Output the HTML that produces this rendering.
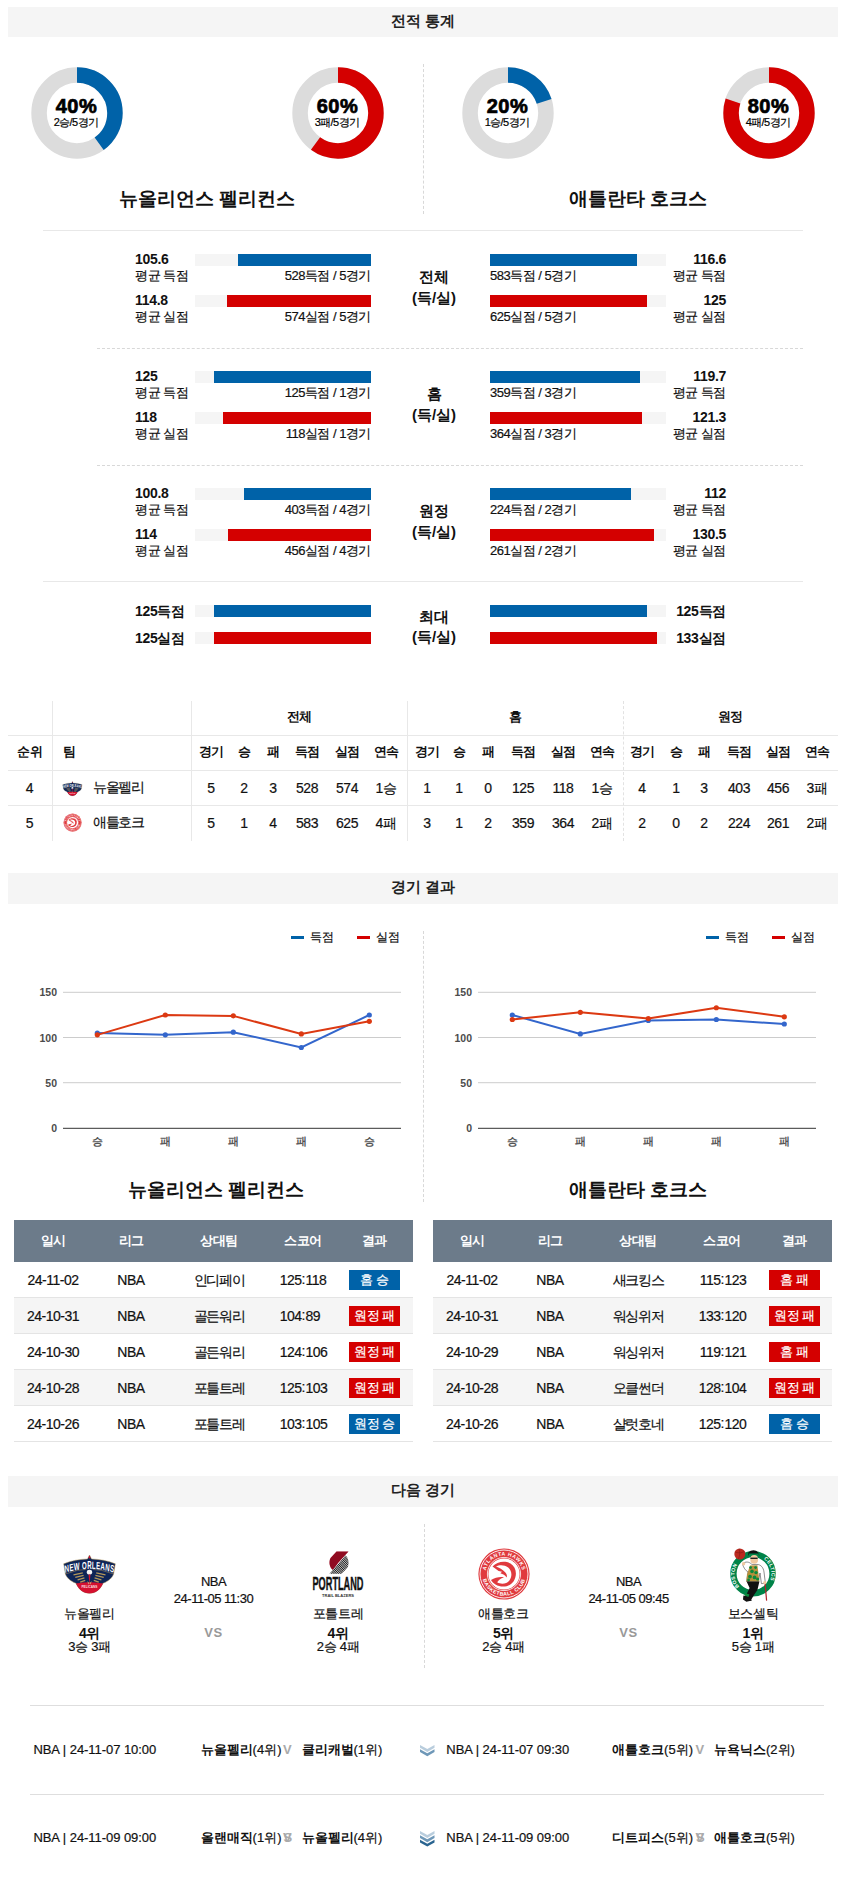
<!DOCTYPE html><html><head><meta charset="utf-8"><title>stats</title><style>
*{margin:0;padding:0;box-sizing:border-box}
html,body{width:844px;height:1878px;background:#fff;overflow:hidden}
body{font-family:"Liberation Sans",sans-serif;color:#111;position:relative;font-size:13px;-webkit-text-stroke:0.2px}
.a{position:absolute;white-space:nowrap}
.hdr{position:absolute;left:8px;width:830px;height:30px;background:#f5f5f5;text-align:center;font-weight:bold;font-size:14.5px;line-height:28px;color:#222;-webkit-text-stroke:0}
.c{text-align:center}
.r{text-align:right}
.b,b{font-weight:bold;-webkit-text-stroke:0}
.hl{position:absolute;height:1px;background:#e8e8e8}
.dl{position:absolute;height:0;border-top:1px dashed #d8d8d8}
.vl{position:absolute;width:0;border-left:1px dashed #d8d8d8}
.bar{position:absolute;height:12px;background:#f5f5f5}
.bar i{position:absolute;top:0;height:12px;display:block}
.cl{padding:0 1px}
</style></head><body>
<div class="hdr" style="top:7px;height:30px">전적 통계</div>
<svg class="a" style="left:30px;top:65.5px" width="94" height="94" viewBox="-47 -47 94 94"><circle r="37.95" fill="none" stroke="#dcdcdc" stroke-width="15.5"/><circle r="37.95" fill="none" stroke="#0062a8" stroke-width="15.5" stroke-dasharray="95.3788 238.447" transform="rotate(-90)"/></svg><div class="a c b" style="left:36.5px;top:95.5px;width:80px;font-size:20px;line-height:20px;letter-spacing:0.5px;-webkit-text-stroke:0.7px #000;color:#000">40%</div><div class="a c" style="left:36px;top:115.5px;width:80px;font-size:11px;line-height:12px;letter-spacing:-0.6px;color:#000">2승/5경기</div>
<svg class="a" style="left:291px;top:65.5px" width="94" height="94" viewBox="-47 -47 94 94"><circle r="37.95" fill="none" stroke="#dcdcdc" stroke-width="15.5"/><circle r="37.95" fill="none" stroke="#d40000" stroke-width="15.5" stroke-dasharray="143.068 238.447" transform="rotate(-90)"/></svg><div class="a c b" style="left:297.5px;top:95.5px;width:80px;font-size:20px;line-height:20px;letter-spacing:0.5px;-webkit-text-stroke:0.7px #000;color:#000">60%</div><div class="a c" style="left:297px;top:115.5px;width:80px;font-size:11px;line-height:12px;letter-spacing:-0.6px;color:#000">3패/5경기</div>
<svg class="a" style="left:461px;top:65.5px" width="94" height="94" viewBox="-47 -47 94 94"><circle r="37.95" fill="none" stroke="#dcdcdc" stroke-width="15.5"/><circle r="37.95" fill="none" stroke="#0062a8" stroke-width="15.5" stroke-dasharray="47.6894 238.447" transform="rotate(-90)"/></svg><div class="a c b" style="left:467.5px;top:95.5px;width:80px;font-size:20px;line-height:20px;letter-spacing:0.5px;-webkit-text-stroke:0.7px #000;color:#000">20%</div><div class="a c" style="left:467px;top:115.5px;width:80px;font-size:11px;line-height:12px;letter-spacing:-0.6px;color:#000">1승/5경기</div>
<svg class="a" style="left:722px;top:65.5px" width="94" height="94" viewBox="-47 -47 94 94"><circle r="37.95" fill="none" stroke="#dcdcdc" stroke-width="15.5"/><circle r="37.95" fill="none" stroke="#d40000" stroke-width="15.5" stroke-dasharray="190.758 238.447" transform="rotate(-90)"/></svg><div class="a c b" style="left:728.5px;top:95.5px;width:80px;font-size:20px;line-height:20px;letter-spacing:0.5px;-webkit-text-stroke:0.7px #000;color:#000">80%</div><div class="a c" style="left:728px;top:115.5px;width:80px;font-size:11px;line-height:12px;letter-spacing:-0.6px;color:#000">4패/5경기</div>
<div class="vl" style="left:423px;top:64px;height:150px"></div>
<div class="a c b" style="left:57px;top:187px;width:300px;font-size:19px;line-height:24px">뉴올리언스 펠리컨스</div>
<div class="a c b" style="left:488px;top:187px;width:300px;font-size:19px;line-height:24px">애틀란타 호크스</div>
<div class="hl" style="left:43px;top:230px;width:760px"></div>
<div class="a b" style="left:135px;top:251px;font-size:14px;line-height:16px;letter-spacing:-0.3px">105.6</div>
<div class="a" style="left:135px;top:268px;font-size:13px;line-height:16px;letter-spacing:-0.5px">평균 득점</div>
<div class="bar" style="left:195px;top:254px;width:176px"><i style="right:0;width:133px;background:#0062a8"></i></div>
<div class="a r" style="left:221px;width:150px;top:268px;font-size:13px;line-height:16px;letter-spacing:-0.5px">528득점 / 5경기</div>
<div class="a b" style="left:135px;top:292px;font-size:14px;line-height:16px;letter-spacing:-0.3px">114.8</div>
<div class="a" style="left:135px;top:309px;font-size:13px;line-height:16px;letter-spacing:-0.5px">평균 실점</div>
<div class="bar" style="left:195px;top:295px;width:176px"><i style="right:0;width:144px;background:#d40000"></i></div>
<div class="a r" style="left:221px;width:150px;top:309px;font-size:13px;line-height:16px;letter-spacing:-0.5px">574실점 / 5경기</div>
<div class="a b r" style="left:626px;width:100px;top:251px;font-size:14px;line-height:16px;letter-spacing:-0.3px">116.6</div>
<div class="a r" style="left:626px;width:100px;top:268px;font-size:13px;line-height:16px;letter-spacing:-0.5px">평균 득점</div>
<div class="bar" style="left:490px;top:254px;width:176px"><i style="left:0;width:147px;background:#0062a8"></i></div>
<div class="a" style="left:490px;top:268px;font-size:13px;line-height:16px;letter-spacing:-0.5px">583득점 / 5경기</div>
<div class="a b r" style="left:626px;width:100px;top:292px;font-size:14px;line-height:16px;letter-spacing:-0.3px">125</div>
<div class="a r" style="left:626px;width:100px;top:309px;font-size:13px;line-height:16px;letter-spacing:-0.5px">평균 실점</div>
<div class="bar" style="left:490px;top:295px;width:176px"><i style="left:0;width:157px;background:#d40000"></i></div>
<div class="a" style="left:490px;top:309px;font-size:13px;line-height:16px;letter-spacing:-0.5px">625실점 / 5경기</div>
<div class="a c b" style="left:394px;width:80px;top:266px;font-size:15px;line-height:21px">전체<br>(득/실)</div>
<div class="dl" style="left:97px;top:348px;width:706px"></div>
<div class="a b" style="left:135px;top:368px;font-size:14px;line-height:16px;letter-spacing:-0.3px">125</div>
<div class="a" style="left:135px;top:385px;font-size:13px;line-height:16px;letter-spacing:-0.5px">평균 득점</div>
<div class="bar" style="left:195px;top:371px;width:176px"><i style="right:0;width:157px;background:#0062a8"></i></div>
<div class="a r" style="left:221px;width:150px;top:385px;font-size:13px;line-height:16px;letter-spacing:-0.5px">125득점 / 1경기</div>
<div class="a b" style="left:135px;top:409px;font-size:14px;line-height:16px;letter-spacing:-0.3px">118</div>
<div class="a" style="left:135px;top:426px;font-size:13px;line-height:16px;letter-spacing:-0.5px">평균 실점</div>
<div class="bar" style="left:195px;top:412px;width:176px"><i style="right:0;width:148px;background:#d40000"></i></div>
<div class="a r" style="left:221px;width:150px;top:426px;font-size:13px;line-height:16px;letter-spacing:-0.5px">118실점 / 1경기</div>
<div class="a b r" style="left:626px;width:100px;top:368px;font-size:14px;line-height:16px;letter-spacing:-0.3px">119.7</div>
<div class="a r" style="left:626px;width:100px;top:385px;font-size:13px;line-height:16px;letter-spacing:-0.5px">평균 득점</div>
<div class="bar" style="left:490px;top:371px;width:176px"><i style="left:0;width:150px;background:#0062a8"></i></div>
<div class="a" style="left:490px;top:385px;font-size:13px;line-height:16px;letter-spacing:-0.5px">359득점 / 3경기</div>
<div class="a b r" style="left:626px;width:100px;top:409px;font-size:14px;line-height:16px;letter-spacing:-0.3px">121.3</div>
<div class="a r" style="left:626px;width:100px;top:426px;font-size:13px;line-height:16px;letter-spacing:-0.5px">평균 실점</div>
<div class="bar" style="left:490px;top:412px;width:176px"><i style="left:0;width:152px;background:#d40000"></i></div>
<div class="a" style="left:490px;top:426px;font-size:13px;line-height:16px;letter-spacing:-0.5px">364실점 / 3경기</div>
<div class="a c b" style="left:394px;width:80px;top:383px;font-size:15px;line-height:21px">홈<br>(득/실)</div>
<div class="dl" style="left:97px;top:465px;width:706px"></div>
<div class="a b" style="left:135px;top:485px;font-size:14px;line-height:16px;letter-spacing:-0.3px">100.8</div>
<div class="a" style="left:135px;top:502px;font-size:13px;line-height:16px;letter-spacing:-0.5px">평균 득점</div>
<div class="bar" style="left:195px;top:488px;width:176px"><i style="right:0;width:127px;background:#0062a8"></i></div>
<div class="a r" style="left:221px;width:150px;top:502px;font-size:13px;line-height:16px;letter-spacing:-0.5px">403득점 / 4경기</div>
<div class="a b" style="left:135px;top:526px;font-size:14px;line-height:16px;letter-spacing:-0.3px">114</div>
<div class="a" style="left:135px;top:543px;font-size:13px;line-height:16px;letter-spacing:-0.5px">평균 실점</div>
<div class="bar" style="left:195px;top:529px;width:176px"><i style="right:0;width:143px;background:#d40000"></i></div>
<div class="a r" style="left:221px;width:150px;top:543px;font-size:13px;line-height:16px;letter-spacing:-0.5px">456실점 / 4경기</div>
<div class="a b r" style="left:626px;width:100px;top:485px;font-size:14px;line-height:16px;letter-spacing:-0.3px">112</div>
<div class="a r" style="left:626px;width:100px;top:502px;font-size:13px;line-height:16px;letter-spacing:-0.5px">평균 득점</div>
<div class="bar" style="left:490px;top:488px;width:176px"><i style="left:0;width:141px;background:#0062a8"></i></div>
<div class="a" style="left:490px;top:502px;font-size:13px;line-height:16px;letter-spacing:-0.5px">224득점 / 2경기</div>
<div class="a b r" style="left:626px;width:100px;top:526px;font-size:14px;line-height:16px;letter-spacing:-0.3px">130.5</div>
<div class="a r" style="left:626px;width:100px;top:543px;font-size:13px;line-height:16px;letter-spacing:-0.5px">평균 실점</div>
<div class="bar" style="left:490px;top:529px;width:176px"><i style="left:0;width:164px;background:#d40000"></i></div>
<div class="a" style="left:490px;top:543px;font-size:13px;line-height:16px;letter-spacing:-0.5px">261실점 / 2경기</div>
<div class="a c b" style="left:394px;width:80px;top:500px;font-size:15px;line-height:21px">원정<br>(득/실)</div>
<div class="hl" style="left:43px;top:581px;width:760px"></div>
<div class="a b" style="left:135px;top:603px;font-size:14px;line-height:16px;letter-spacing:-0.3px">125<span class="k">득점</span></div>
<div class="bar" style="left:195px;top:605px;width:176px"><i style="right:0;width:157px;background:#0062a8"></i></div>
<div class="a b r" style="left:626px;width:100px;top:603px;font-size:14px;line-height:16px;letter-spacing:-0.3px">125<span class="k">득점</span></div>
<div class="bar" style="left:490px;top:605px;width:176px"><i style="left:0;width:157px;background:#0062a8"></i></div>
<div class="a b" style="left:135px;top:630px;font-size:14px;line-height:16px;letter-spacing:-0.3px">125<span class="k">실점</span></div>
<div class="bar" style="left:195px;top:632px;width:176px"><i style="right:0;width:157px;background:#d40000"></i></div>
<div class="a b r" style="left:626px;width:100px;top:630px;font-size:14px;line-height:16px;letter-spacing:-0.3px">133<span class="k">실점</span></div>
<div class="bar" style="left:490px;top:632px;width:176px"><i style="left:0;width:167px;background:#d40000"></i></div>
<div class="a c b" style="left:394px;width:80px;top:606.5px;font-size:15px;line-height:20.5px">최대<br>(득/실)</div>
<div class="a" style="left:52px;top:701px;height:140px;width:1px;background:#e8e8e8"></div>
<div class="a" style="left:191px;top:701px;height:140px;width:1px;background:#e8e8e8"></div>
<div class="a" style="left:407px;top:701px;height:140px;width:1px;background:#e8e8e8"></div>
<div class="vl" style="left:623px;top:701px;height:140px;border-color:#e2e2e2"></div>
<div class="hl" style="left:8px;top:735px;width:830px"></div>
<div class="hl" style="left:8px;top:770px;width:830px"></div>
<div class="hl" style="left:8px;top:805px;width:830px"></div>
<div class="a c b" style="left:269px;top:709px;width:60px;font-size:13px;line-height:16px;letter-spacing:-0.5px">전체</div>
<div class="a c b" style="left:485px;top:709px;width:60px;font-size:13px;line-height:16px;letter-spacing:-0.5px">홈</div>
<div class="a c b" style="left:700px;top:709px;width:60px;font-size:13px;line-height:16px;letter-spacing:-0.5px">원정</div>
<div class="a c b" style="left:-0.5px;top:744px;width:60px;font-size:13px;line-height:16px;letter-spacing:-0.5px">순위</div>
<div class="a b" style="left:63px;top:744px;font-size:13px;line-height:16px">팀</div>
<div class="a c b" style="left:181px;top:744px;width:60px;font-size:13px;line-height:16px;letter-spacing:-0.5px">경기</div>
<div class="a c b" style="left:214px;top:744px;width:60px;font-size:13px;line-height:16px;letter-spacing:-0.5px">승</div>
<div class="a c b" style="left:243px;top:744px;width:60px;font-size:13px;line-height:16px;letter-spacing:-0.5px">패</div>
<div class="a c b" style="left:277px;top:744px;width:60px;font-size:13px;line-height:16px;letter-spacing:-0.5px">득점</div>
<div class="a c b" style="left:317px;top:744px;width:60px;font-size:13px;line-height:16px;letter-spacing:-0.5px">실점</div>
<div class="a c b" style="left:356px;top:744px;width:60px;font-size:13px;line-height:16px;letter-spacing:-0.5px">연속</div>
<div class="a c b" style="left:397px;top:744px;width:60px;font-size:13px;line-height:16px;letter-spacing:-0.5px">경기</div>
<div class="a c b" style="left:429px;top:744px;width:60px;font-size:13px;line-height:16px;letter-spacing:-0.5px">승</div>
<div class="a c b" style="left:458px;top:744px;width:60px;font-size:13px;line-height:16px;letter-spacing:-0.5px">패</div>
<div class="a c b" style="left:493px;top:744px;width:60px;font-size:13px;line-height:16px;letter-spacing:-0.5px">득점</div>
<div class="a c b" style="left:533px;top:744px;width:60px;font-size:13px;line-height:16px;letter-spacing:-0.5px">실점</div>
<div class="a c b" style="left:572px;top:744px;width:60px;font-size:13px;line-height:16px;letter-spacing:-0.5px">연속</div>
<div class="a c b" style="left:612px;top:744px;width:60px;font-size:13px;line-height:16px;letter-spacing:-0.5px">경기</div>
<div class="a c b" style="left:646px;top:744px;width:60px;font-size:13px;line-height:16px;letter-spacing:-0.5px">승</div>
<div class="a c b" style="left:674px;top:744px;width:60px;font-size:13px;line-height:16px;letter-spacing:-0.5px">패</div>
<div class="a c b" style="left:709px;top:744px;width:60px;font-size:13px;line-height:16px;letter-spacing:-0.5px">득점</div>
<div class="a c b" style="left:748px;top:744px;width:60px;font-size:13px;line-height:16px;letter-spacing:-0.5px">실점</div>
<div class="a c b" style="left:787px;top:744px;width:60px;font-size:13px;line-height:16px;letter-spacing:-0.5px">연속</div>
<div class="a c" style="left:-0.5px;top:780px;width:60px;font-size:14px;line-height:16px;letter-spacing:-0.5px">4</div>
<div class="a" style="left:93px;top:779px;font-size:14px;line-height:16px;letter-spacing:-1.3px">뉴올펠리</div>
<div class="a c" style="left:181px;top:780px;width:60px;font-size:14px;line-height:16px;letter-spacing:-0.5px">5</div>
<div class="a c" style="left:214px;top:780px;width:60px;font-size:14px;line-height:16px;letter-spacing:-0.5px">2</div>
<div class="a c" style="left:243px;top:780px;width:60px;font-size:14px;line-height:16px;letter-spacing:-0.5px">3</div>
<div class="a c" style="left:277px;top:780px;width:60px;font-size:14px;line-height:16px;letter-spacing:-0.5px">528</div>
<div class="a c" style="left:317px;top:780px;width:60px;font-size:14px;line-height:16px;letter-spacing:-0.5px">574</div>
<div class="a c" style="left:356px;top:780px;width:60px;font-size:14px;line-height:16px;letter-spacing:-0.5px">1승</div>
<div class="a c" style="left:397px;top:780px;width:60px;font-size:14px;line-height:16px;letter-spacing:-0.5px">1</div>
<div class="a c" style="left:429px;top:780px;width:60px;font-size:14px;line-height:16px;letter-spacing:-0.5px">1</div>
<div class="a c" style="left:458px;top:780px;width:60px;font-size:14px;line-height:16px;letter-spacing:-0.5px">0</div>
<div class="a c" style="left:493px;top:780px;width:60px;font-size:14px;line-height:16px;letter-spacing:-0.5px">125</div>
<div class="a c" style="left:533px;top:780px;width:60px;font-size:14px;line-height:16px;letter-spacing:-0.5px">118</div>
<div class="a c" style="left:572px;top:780px;width:60px;font-size:14px;line-height:16px;letter-spacing:-0.5px">1승</div>
<div class="a c" style="left:612px;top:780px;width:60px;font-size:14px;line-height:16px;letter-spacing:-0.5px">4</div>
<div class="a c" style="left:646px;top:780px;width:60px;font-size:14px;line-height:16px;letter-spacing:-0.5px">1</div>
<div class="a c" style="left:674px;top:780px;width:60px;font-size:14px;line-height:16px;letter-spacing:-0.5px">3</div>
<div class="a c" style="left:709px;top:780px;width:60px;font-size:14px;line-height:16px;letter-spacing:-0.5px">403</div>
<div class="a c" style="left:748px;top:780px;width:60px;font-size:14px;line-height:16px;letter-spacing:-0.5px">456</div>
<div class="a c" style="left:787px;top:780px;width:60px;font-size:14px;line-height:16px;letter-spacing:-0.5px">3패</div>
<div class="a c" style="left:-0.5px;top:815px;width:60px;font-size:14px;line-height:16px;letter-spacing:-0.5px">5</div>
<div class="a" style="left:93px;top:814px;font-size:14px;line-height:16px;letter-spacing:-1.3px">애틀호크</div>
<div class="a c" style="left:181px;top:815px;width:60px;font-size:14px;line-height:16px;letter-spacing:-0.5px">5</div>
<div class="a c" style="left:214px;top:815px;width:60px;font-size:14px;line-height:16px;letter-spacing:-0.5px">1</div>
<div class="a c" style="left:243px;top:815px;width:60px;font-size:14px;line-height:16px;letter-spacing:-0.5px">4</div>
<div class="a c" style="left:277px;top:815px;width:60px;font-size:14px;line-height:16px;letter-spacing:-0.5px">583</div>
<div class="a c" style="left:317px;top:815px;width:60px;font-size:14px;line-height:16px;letter-spacing:-0.5px">625</div>
<div class="a c" style="left:356px;top:815px;width:60px;font-size:14px;line-height:16px;letter-spacing:-0.5px">4패</div>
<div class="a c" style="left:397px;top:815px;width:60px;font-size:14px;line-height:16px;letter-spacing:-0.5px">3</div>
<div class="a c" style="left:429px;top:815px;width:60px;font-size:14px;line-height:16px;letter-spacing:-0.5px">1</div>
<div class="a c" style="left:458px;top:815px;width:60px;font-size:14px;line-height:16px;letter-spacing:-0.5px">2</div>
<div class="a c" style="left:493px;top:815px;width:60px;font-size:14px;line-height:16px;letter-spacing:-0.5px">359</div>
<div class="a c" style="left:533px;top:815px;width:60px;font-size:14px;line-height:16px;letter-spacing:-0.5px">364</div>
<div class="a c" style="left:572px;top:815px;width:60px;font-size:14px;line-height:16px;letter-spacing:-0.5px">2패</div>
<div class="a c" style="left:612px;top:815px;width:60px;font-size:14px;line-height:16px;letter-spacing:-0.5px">2</div>
<div class="a c" style="left:646px;top:815px;width:60px;font-size:14px;line-height:16px;letter-spacing:-0.5px">0</div>
<div class="a c" style="left:674px;top:815px;width:60px;font-size:14px;line-height:16px;letter-spacing:-0.5px">2</div>
<div class="a c" style="left:709px;top:815px;width:60px;font-size:14px;line-height:16px;letter-spacing:-0.5px">224</div>
<div class="a c" style="left:748px;top:815px;width:60px;font-size:14px;line-height:16px;letter-spacing:-0.5px">261</div>
<div class="a c" style="left:787px;top:815px;width:60px;font-size:14px;line-height:16px;letter-spacing:-0.5px">2패</div>
<div class="hdr" style="top:873px;height:31px;line-height:29px">경기 결과</div>
<div class="vl" style="left:423px;top:931px;height:271px"></div>
<div class="a" style="left:291px;top:936px;width:12.5px;height:3px;background:#0062a8"></div>
<div class="a" style="left:310px;top:929px;font-size:12px;line-height:16px">득점</div>
<div class="a" style="left:357px;top:936px;width:12.5px;height:3px;background:#d40000"></div>
<div class="a" style="left:376px;top:929px;font-size:12px;line-height:16px">실점</div>
<svg class="a" style="left:23px;top:980px" width="383" height="175" viewBox="0 0 383 175"><rect x="40" y="11.8" width="338" height="1" fill="#ccc"/><rect x="40" y="57" width="338" height="1" fill="#ccc"/><rect x="40" y="102.2" width="338" height="1" fill="#ccc"/><rect x="40" y="147.8" width="338" height="1" fill="#333"/><text x="34" y="16.3" text-anchor="end" font-size="10.5" font-weight="bold" fill="#4c4c4c" font-family="Liberation Sans, sans-serif">150</text><text x="34" y="61.5" text-anchor="end" font-size="10.5" font-weight="bold" fill="#4c4c4c" font-family="Liberation Sans, sans-serif">100</text><text x="34" y="106.7" text-anchor="end" font-size="10.5" font-weight="bold" fill="#4c4c4c" font-family="Liberation Sans, sans-serif">50</text><text x="34" y="151.9" text-anchor="end" font-size="10.5" font-weight="bold" fill="#4c4c4c" font-family="Liberation Sans, sans-serif">0</text><polyline fill="none" stroke="#3366cc" stroke-width="2" points="74.3,53.0535 142.3,54.8601 210.3,52.1502 278.3,67.5063 346.3,34.9875"/><circle cx="74.3" cy="53.0535" r="2.6" fill="#3366cc"/><circle cx="142.3" cy="54.8601" r="2.6" fill="#3366cc"/><circle cx="210.3" cy="52.1502" r="2.6" fill="#3366cc"/><circle cx="278.3" cy="67.5063" r="2.6" fill="#3366cc"/><circle cx="346.3" cy="34.9875" r="2.6" fill="#3366cc"/><polyline fill="none" stroke="#dc3912" stroke-width="2" points="74.3,54.8601 142.3,34.9875 210.3,35.8908 278.3,53.9568 346.3,41.3106"/><circle cx="74.3" cy="54.8601" r="2.6" fill="#dc3912"/><circle cx="142.3" cy="34.9875" r="2.6" fill="#dc3912"/><circle cx="210.3" cy="35.8908" r="2.6" fill="#dc3912"/><circle cx="278.3" cy="53.9568" r="2.6" fill="#dc3912"/><circle cx="346.3" cy="41.3106" r="2.6" fill="#dc3912"/><text x="74.3" y="165" text-anchor="middle" font-size="10.5" font-weight="bold" fill="#555" font-family="Liberation Sans, sans-serif">승</text><text x="142.3" y="165" text-anchor="middle" font-size="10.5" font-weight="bold" fill="#555" font-family="Liberation Sans, sans-serif">패</text><text x="210.3" y="165" text-anchor="middle" font-size="10.5" font-weight="bold" fill="#555" font-family="Liberation Sans, sans-serif">패</text><text x="278.3" y="165" text-anchor="middle" font-size="10.5" font-weight="bold" fill="#555" font-family="Liberation Sans, sans-serif">패</text><text x="346.3" y="165" text-anchor="middle" font-size="10.5" font-weight="bold" fill="#555" font-family="Liberation Sans, sans-serif">승</text></svg>
<div class="a" style="left:706px;top:936px;width:12.5px;height:3px;background:#0062a8"></div>
<div class="a" style="left:725px;top:929px;font-size:12px;line-height:16px">득점</div>
<div class="a" style="left:772px;top:936px;width:12.5px;height:3px;background:#d40000"></div>
<div class="a" style="left:791px;top:929px;font-size:12px;line-height:16px">실점</div>
<svg class="a" style="left:438px;top:980px" width="383" height="175" viewBox="0 0 383 175"><rect x="40" y="11.8" width="338" height="1" fill="#ccc"/><rect x="40" y="57" width="338" height="1" fill="#ccc"/><rect x="40" y="102.2" width="338" height="1" fill="#ccc"/><rect x="40" y="147.8" width="338" height="1" fill="#333"/><text x="34" y="16.3" text-anchor="end" font-size="10.5" font-weight="bold" fill="#4c4c4c" font-family="Liberation Sans, sans-serif">150</text><text x="34" y="61.5" text-anchor="end" font-size="10.5" font-weight="bold" fill="#4c4c4c" font-family="Liberation Sans, sans-serif">100</text><text x="34" y="106.7" text-anchor="end" font-size="10.5" font-weight="bold" fill="#4c4c4c" font-family="Liberation Sans, sans-serif">50</text><text x="34" y="151.9" text-anchor="end" font-size="10.5" font-weight="bold" fill="#4c4c4c" font-family="Liberation Sans, sans-serif">0</text><polyline fill="none" stroke="#3366cc" stroke-width="2" points="74.3,34.9875 142.3,53.9568 210.3,40.4073 278.3,39.504 346.3,44.0205"/><circle cx="74.3" cy="34.9875" r="2.6" fill="#3366cc"/><circle cx="142.3" cy="53.9568" r="2.6" fill="#3366cc"/><circle cx="210.3" cy="40.4073" r="2.6" fill="#3366cc"/><circle cx="278.3" cy="39.504" r="2.6" fill="#3366cc"/><circle cx="346.3" cy="44.0205" r="2.6" fill="#3366cc"/><polyline fill="none" stroke="#dc3912" stroke-width="2" points="74.3,39.504 142.3,32.2776 210.3,38.6007 278.3,27.7611 346.3,36.7941"/><circle cx="74.3" cy="39.504" r="2.6" fill="#dc3912"/><circle cx="142.3" cy="32.2776" r="2.6" fill="#dc3912"/><circle cx="210.3" cy="38.6007" r="2.6" fill="#dc3912"/><circle cx="278.3" cy="27.7611" r="2.6" fill="#dc3912"/><circle cx="346.3" cy="36.7941" r="2.6" fill="#dc3912"/><text x="74.3" y="165" text-anchor="middle" font-size="10.5" font-weight="bold" fill="#555" font-family="Liberation Sans, sans-serif">승</text><text x="142.3" y="165" text-anchor="middle" font-size="10.5" font-weight="bold" fill="#555" font-family="Liberation Sans, sans-serif">패</text><text x="210.3" y="165" text-anchor="middle" font-size="10.5" font-weight="bold" fill="#555" font-family="Liberation Sans, sans-serif">패</text><text x="278.3" y="165" text-anchor="middle" font-size="10.5" font-weight="bold" fill="#555" font-family="Liberation Sans, sans-serif">패</text><text x="346.3" y="165" text-anchor="middle" font-size="10.5" font-weight="bold" fill="#555" font-family="Liberation Sans, sans-serif">패</text></svg>
<div class="a c b" style="left:66px;top:1178px;width:300px;font-size:19px;line-height:24px">뉴올리언스 펠리컨스</div>
<div class="a c b" style="left:488px;top:1178px;width:300px;font-size:19px;line-height:24px">애틀란타 호크스</div>
<div class="a" style="left:14px;top:1220px;width:399px;height:42px;background:#6c7b8a"></div>
<div class="a c b" style="left:13px;top:1233px;width:80px;font-size:13px;line-height:16px;color:#fff;letter-spacing:-0.5px">일시</div>
<div class="a c b" style="left:91px;top:1233px;width:80px;font-size:13px;line-height:16px;color:#fff;letter-spacing:-0.5px">리그</div>
<div class="a c b" style="left:179px;top:1233px;width:80px;font-size:13px;line-height:16px;color:#fff;letter-spacing:-0.5px">상대팀</div>
<div class="a c b" style="left:263px;top:1233px;width:80px;font-size:13px;line-height:16px;color:#fff;letter-spacing:-0.5px">스코어</div>
<div class="a c b" style="left:334px;top:1233px;width:80px;font-size:13px;line-height:16px;color:#fff;letter-spacing:-0.5px">결과</div>
<div class="a" style="left:14px;top:1262px;width:399px;height:36px;background:#fff;border-bottom:1px solid #e4e4e4"></div>
<div class="a c" style="left:8px;top:1272px;width:90px;font-size:14px;line-height:16px;letter-spacing:-0.5px">24-11-02</div>
<div class="a c" style="left:86px;top:1272px;width:90px;font-size:14px;line-height:16px;letter-spacing:-0.5px">NBA</div>
<div class="a c" style="left:174px;top:1272px;width:90px;font-size:14px;line-height:16px;letter-spacing:-1.3px">인디페이</div>
<div class="a r" style="left:261.5px;top:1272px;width:40px;font-size:14px;line-height:16px;letter-spacing:-0.5px">125</div>
<div class="a c" style="left:300.5px;top:1271px;width:6px;font-size:14px;line-height:16px">:</div>
<div class="a" style="left:305.5px;top:1272px;font-size:14px;line-height:16px;letter-spacing:-0.5px">118</div>
<div class="a c" style="left:349px;top:1270px;width:51px;height:20px;background:#0062a8;color:#fff;font-size:13px;line-height:20px;letter-spacing:-0.5px">홈 승</div>
<div class="a" style="left:14px;top:1298px;width:399px;height:36px;background:#f5f5f5;border-bottom:1px solid #e4e4e4"></div>
<div class="a c" style="left:8px;top:1308px;width:90px;font-size:14px;line-height:16px;letter-spacing:-0.5px">24-10-31</div>
<div class="a c" style="left:86px;top:1308px;width:90px;font-size:14px;line-height:16px;letter-spacing:-0.5px">NBA</div>
<div class="a c" style="left:174px;top:1308px;width:90px;font-size:14px;line-height:16px;letter-spacing:-1.3px">골든워리</div>
<div class="a r" style="left:261.5px;top:1308px;width:40px;font-size:14px;line-height:16px;letter-spacing:-0.5px">104</div>
<div class="a c" style="left:300.5px;top:1307px;width:6px;font-size:14px;line-height:16px">:</div>
<div class="a" style="left:305.5px;top:1308px;font-size:14px;line-height:16px;letter-spacing:-0.5px">89</div>
<div class="a c" style="left:349px;top:1306px;width:51px;height:20px;background:#d40000;color:#fff;font-size:13px;line-height:20px;letter-spacing:-0.5px">원정 패</div>
<div class="a" style="left:14px;top:1334px;width:399px;height:36px;background:#fff;border-bottom:1px solid #e4e4e4"></div>
<div class="a c" style="left:8px;top:1344px;width:90px;font-size:14px;line-height:16px;letter-spacing:-0.5px">24-10-30</div>
<div class="a c" style="left:86px;top:1344px;width:90px;font-size:14px;line-height:16px;letter-spacing:-0.5px">NBA</div>
<div class="a c" style="left:174px;top:1344px;width:90px;font-size:14px;line-height:16px;letter-spacing:-1.3px">골든워리</div>
<div class="a r" style="left:261.5px;top:1344px;width:40px;font-size:14px;line-height:16px;letter-spacing:-0.5px">124</div>
<div class="a c" style="left:300.5px;top:1343px;width:6px;font-size:14px;line-height:16px">:</div>
<div class="a" style="left:305.5px;top:1344px;font-size:14px;line-height:16px;letter-spacing:-0.5px">106</div>
<div class="a c" style="left:349px;top:1342px;width:51px;height:20px;background:#d40000;color:#fff;font-size:13px;line-height:20px;letter-spacing:-0.5px">원정 패</div>
<div class="a" style="left:14px;top:1370px;width:399px;height:36px;background:#f5f5f5;border-bottom:1px solid #e4e4e4"></div>
<div class="a c" style="left:8px;top:1380px;width:90px;font-size:14px;line-height:16px;letter-spacing:-0.5px">24-10-28</div>
<div class="a c" style="left:86px;top:1380px;width:90px;font-size:14px;line-height:16px;letter-spacing:-0.5px">NBA</div>
<div class="a c" style="left:174px;top:1380px;width:90px;font-size:14px;line-height:16px;letter-spacing:-1.3px">포틀트레</div>
<div class="a r" style="left:261.5px;top:1380px;width:40px;font-size:14px;line-height:16px;letter-spacing:-0.5px">125</div>
<div class="a c" style="left:300.5px;top:1379px;width:6px;font-size:14px;line-height:16px">:</div>
<div class="a" style="left:305.5px;top:1380px;font-size:14px;line-height:16px;letter-spacing:-0.5px">103</div>
<div class="a c" style="left:349px;top:1378px;width:51px;height:20px;background:#d40000;color:#fff;font-size:13px;line-height:20px;letter-spacing:-0.5px">원정 패</div>
<div class="a" style="left:14px;top:1406px;width:399px;height:36px;background:#fff;border-bottom:1px solid #e4e4e4"></div>
<div class="a c" style="left:8px;top:1416px;width:90px;font-size:14px;line-height:16px;letter-spacing:-0.5px">24-10-26</div>
<div class="a c" style="left:86px;top:1416px;width:90px;font-size:14px;line-height:16px;letter-spacing:-0.5px">NBA</div>
<div class="a c" style="left:174px;top:1416px;width:90px;font-size:14px;line-height:16px;letter-spacing:-1.3px">포틀트레</div>
<div class="a r" style="left:261.5px;top:1416px;width:40px;font-size:14px;line-height:16px;letter-spacing:-0.5px">103</div>
<div class="a c" style="left:300.5px;top:1415px;width:6px;font-size:14px;line-height:16px">:</div>
<div class="a" style="left:305.5px;top:1416px;font-size:14px;line-height:16px;letter-spacing:-0.5px">105</div>
<div class="a c" style="left:349px;top:1414px;width:51px;height:20px;background:#0062a8;color:#fff;font-size:13px;line-height:20px;letter-spacing:-0.5px">원정 승</div>
<div class="a" style="left:433px;top:1220px;width:399px;height:42px;background:#6c7b8a"></div>
<div class="a c b" style="left:432px;top:1233px;width:80px;font-size:13px;line-height:16px;color:#fff;letter-spacing:-0.5px">일시</div>
<div class="a c b" style="left:510px;top:1233px;width:80px;font-size:13px;line-height:16px;color:#fff;letter-spacing:-0.5px">리그</div>
<div class="a c b" style="left:598px;top:1233px;width:80px;font-size:13px;line-height:16px;color:#fff;letter-spacing:-0.5px">상대팀</div>
<div class="a c b" style="left:682px;top:1233px;width:80px;font-size:13px;line-height:16px;color:#fff;letter-spacing:-0.5px">스코어</div>
<div class="a c b" style="left:754px;top:1233px;width:80px;font-size:13px;line-height:16px;color:#fff;letter-spacing:-0.5px">결과</div>
<div class="a" style="left:433px;top:1262px;width:399px;height:36px;background:#fff;border-bottom:1px solid #e4e4e4"></div>
<div class="a c" style="left:427px;top:1272px;width:90px;font-size:14px;line-height:16px;letter-spacing:-0.5px">24-11-02</div>
<div class="a c" style="left:505px;top:1272px;width:90px;font-size:14px;line-height:16px;letter-spacing:-0.5px">NBA</div>
<div class="a c" style="left:593px;top:1272px;width:90px;font-size:14px;line-height:16px;letter-spacing:-1.3px">새크킹스</div>
<div class="a r" style="left:680.5px;top:1272px;width:40px;font-size:14px;line-height:16px;letter-spacing:-0.5px">115</div>
<div class="a c" style="left:719.5px;top:1271px;width:6px;font-size:14px;line-height:16px">:</div>
<div class="a" style="left:724.5px;top:1272px;font-size:14px;line-height:16px;letter-spacing:-0.5px">123</div>
<div class="a c" style="left:769px;top:1270px;width:51px;height:20px;background:#d40000;color:#fff;font-size:13px;line-height:20px;letter-spacing:-0.5px">홈 패</div>
<div class="a" style="left:433px;top:1298px;width:399px;height:36px;background:#f5f5f5;border-bottom:1px solid #e4e4e4"></div>
<div class="a c" style="left:427px;top:1308px;width:90px;font-size:14px;line-height:16px;letter-spacing:-0.5px">24-10-31</div>
<div class="a c" style="left:505px;top:1308px;width:90px;font-size:14px;line-height:16px;letter-spacing:-0.5px">NBA</div>
<div class="a c" style="left:593px;top:1308px;width:90px;font-size:14px;line-height:16px;letter-spacing:-1.3px">워싱위저</div>
<div class="a r" style="left:680.5px;top:1308px;width:40px;font-size:14px;line-height:16px;letter-spacing:-0.5px">133</div>
<div class="a c" style="left:719.5px;top:1307px;width:6px;font-size:14px;line-height:16px">:</div>
<div class="a" style="left:724.5px;top:1308px;font-size:14px;line-height:16px;letter-spacing:-0.5px">120</div>
<div class="a c" style="left:769px;top:1306px;width:51px;height:20px;background:#d40000;color:#fff;font-size:13px;line-height:20px;letter-spacing:-0.5px">원정 패</div>
<div class="a" style="left:433px;top:1334px;width:399px;height:36px;background:#fff;border-bottom:1px solid #e4e4e4"></div>
<div class="a c" style="left:427px;top:1344px;width:90px;font-size:14px;line-height:16px;letter-spacing:-0.5px">24-10-29</div>
<div class="a c" style="left:505px;top:1344px;width:90px;font-size:14px;line-height:16px;letter-spacing:-0.5px">NBA</div>
<div class="a c" style="left:593px;top:1344px;width:90px;font-size:14px;line-height:16px;letter-spacing:-1.3px">워싱위저</div>
<div class="a r" style="left:680.5px;top:1344px;width:40px;font-size:14px;line-height:16px;letter-spacing:-0.5px">119</div>
<div class="a c" style="left:719.5px;top:1343px;width:6px;font-size:14px;line-height:16px">:</div>
<div class="a" style="left:724.5px;top:1344px;font-size:14px;line-height:16px;letter-spacing:-0.5px">121</div>
<div class="a c" style="left:769px;top:1342px;width:51px;height:20px;background:#d40000;color:#fff;font-size:13px;line-height:20px;letter-spacing:-0.5px">홈 패</div>
<div class="a" style="left:433px;top:1370px;width:399px;height:36px;background:#f5f5f5;border-bottom:1px solid #e4e4e4"></div>
<div class="a c" style="left:427px;top:1380px;width:90px;font-size:14px;line-height:16px;letter-spacing:-0.5px">24-10-28</div>
<div class="a c" style="left:505px;top:1380px;width:90px;font-size:14px;line-height:16px;letter-spacing:-0.5px">NBA</div>
<div class="a c" style="left:593px;top:1380px;width:90px;font-size:14px;line-height:16px;letter-spacing:-1.3px">오클썬더</div>
<div class="a r" style="left:680.5px;top:1380px;width:40px;font-size:14px;line-height:16px;letter-spacing:-0.5px">128</div>
<div class="a c" style="left:719.5px;top:1379px;width:6px;font-size:14px;line-height:16px">:</div>
<div class="a" style="left:724.5px;top:1380px;font-size:14px;line-height:16px;letter-spacing:-0.5px">104</div>
<div class="a c" style="left:769px;top:1378px;width:51px;height:20px;background:#d40000;color:#fff;font-size:13px;line-height:20px;letter-spacing:-0.5px">원정 패</div>
<div class="a" style="left:433px;top:1406px;width:399px;height:36px;background:#fff;border-bottom:1px solid #e4e4e4"></div>
<div class="a c" style="left:427px;top:1416px;width:90px;font-size:14px;line-height:16px;letter-spacing:-0.5px">24-10-26</div>
<div class="a c" style="left:505px;top:1416px;width:90px;font-size:14px;line-height:16px;letter-spacing:-0.5px">NBA</div>
<div class="a c" style="left:593px;top:1416px;width:90px;font-size:14px;line-height:16px;letter-spacing:-1.3px">샬럿호네</div>
<div class="a r" style="left:680.5px;top:1416px;width:40px;font-size:14px;line-height:16px;letter-spacing:-0.5px">125</div>
<div class="a c" style="left:719.5px;top:1415px;width:6px;font-size:14px;line-height:16px">:</div>
<div class="a" style="left:724.5px;top:1416px;font-size:14px;line-height:16px;letter-spacing:-0.5px">120</div>
<div class="a c" style="left:769px;top:1414px;width:51px;height:20px;background:#0062a8;color:#fff;font-size:13px;line-height:20px;letter-spacing:-0.5px">홈 승</div>
<div class="hdr" style="top:1476px;height:31px;line-height:28px">다음 경기</div>
<div class="vl" style="left:424px;top:1524px;height:144px"></div>
<svg class="a" style="left:61.8px;top:1554px" width="55" height="41" viewBox="-1 -1 55 41"><path d="M0.7 8.8 C8 5.6 17 4.2 24.5 4 L26.5 0 L28.5 4 C36 4.2 45 5.6 52.3 8.8 L50.6 19 C49.5 22.5 46 26 40 28.3 C36.5 36 31.5 38.2 26.5 38.2 C21.5 38.2 16.5 36 13 28.3 C7 26 3.5 22.5 2.4 19 Z" fill="#0e2557" stroke="#b4975a" stroke-width="0.5"/><path d="M13 28.4 Q26.5 26.2 40 28.4 C36.5 36 31.5 38.2 26.5 38.2 C21.5 38.2 16.5 36 13 28.4Z" fill="#d5102f"/><path d="M2.6 18.9 Q26.5 9.4 50.4 18.9" fill="none" stroke="#b4975a" stroke-width="0.5"/><g stroke="#b4975a" stroke-width="1.25" fill="none"><path d="M10.5 19.8 L19.8 17.9"/><path d="M12.3 22.4 L20.6 20.4"/><path d="M14.6 24.9 L21.4 22.9"/><path d="M17.2 27.2 L22.2 25.4"/><path d="M42.5 19.8 L33.2 17.9"/><path d="M40.7 22.4 L32.4 20.4"/><path d="M38.4 24.9 L31.6 22.9"/><path d="M35.8 27.2 L30.8 25.4"/></g><circle cx="26.5" cy="17.4" r="4.3" fill="#0e2557"/><ellipse cx="26.5" cy="17.2" rx="2.7" ry="2.4" fill="#f4f4f6"/><path d="M25.5 19.4 L26.5 29 L27.5 19.4Z" fill="#d5102f"/><path d="M24.4 26 L25.2 29.6 L26.5 27.5 L27.8 29.6 L28.6 26 L26.5 28.6Z" fill="#c9b27a"/><path d="M25.7 2.2 L26.5 0.4 L27.3 2.2 L26.5 4Z" fill="#d5102f"/><path id="nopA" d="M4.33333 17.7 Q44.1667 10 84 17.7" fill="none"/><g transform="scale(0.6,1)"><text font-family="Liberation Sans, sans-serif" font-weight="bold" font-size="10.2" fill="#fff" letter-spacing="0.5"><textPath href="#nopA" startOffset="50%" text-anchor="middle">NEW ORLEANS</textPath></text></g><text x="26.5" y="32.9" text-anchor="middle" font-family="Liberation Sans, sans-serif" font-weight="bold" font-size="2.8" fill="#fff" opacity="0.85" textLength="16" lengthAdjust="spacingAndGlyphs">PELICANS</text></svg>
<svg class="a" style="left:311px;top:1550px" width="54" height="48" viewBox="0 0 54 48"><defs><pattern id="st" width="1.6" height="1.6" patternUnits="userSpaceOnUse" patternTransform="rotate(45)"><rect width="1.6" height="0.85" fill="#1a1a1a"/></pattern></defs><path d="M25.5 1.6 L37.5 1.6 L27.5 12.5 L22 20 C18.5 17.5 17.5 12 19.5 8 Z" fill="#c8102e"/><path d="M25.5 1.6 L37.5 1.6 L27.5 12.5 L22 20 C18.5 17.5 17.5 12 19.5 8 Z" fill="#000" opacity="0.28"/><path d="M30.5 23.8 L18.5 23.8 L28.5 12.5 L34.5 5.5 C37.5 8 38.5 13.5 36.5 17.5 Z" fill="#cfcfcf"/><path d="M30.5 23.8 L18.5 23.8 L28.5 12.5 L34.5 5.5 C37.5 8 38.5 13.5 36.5 17.5 Z" fill="url(#st)"/><text x="27" y="40.3" text-anchor="middle" font-family="Liberation Sans, sans-serif" font-weight="bold" font-size="18.6" fill="#111" stroke="#111" stroke-width="0.45" textLength="51" lengthAdjust="spacingAndGlyphs">PORTLAND</text><text x="27" y="46.6" text-anchor="middle" font-family="Liberation Sans, sans-serif" font-weight="bold" font-size="3.6" fill="#333" textLength="32" lengthAdjust="spacingAndGlyphs">TRAIL BLAZERS</text></svg>
<svg class="a" style="left:477px;top:1547px" width="54" height="54" viewBox="-27 -27 54 54"><circle r="25.6" fill="#e03a3e"/><circle r="24" fill="none" stroke="#fff" stroke-width="0.9"/><circle r="15.6" fill="#fff"/><circle r="16.6" fill="none" stroke="#fff" stroke-width="0.8"/><path id="atA" d="M-18.6 0 A18.6 18.6 0 0 1 18.6 0" fill="none"/><path id="atB" d="M-21.8 0 A21.8 21.8 0 0 0 21.8 0" fill="none"/><text font-family="Liberation Sans, sans-serif" font-weight="bold" font-size="5.2" fill="#fff" letter-spacing="0.5"><textPath href="#atA" startOffset="50%" text-anchor="middle">ATLANTA HAWKS</textPath></text><text font-family="Liberation Sans, sans-serif" font-weight="bold" font-size="5.2" fill="#fff" letter-spacing="0.4"><textPath href="#atB" startOffset="50%" text-anchor="middle">BASKETBALL CLUB</textPath></text><path d="M-11.5 -7.5 C-7 -12.5 1 -13.5 6.5 -10.5 C12.5 -7 13.5 1.5 9.5 7.5 C5.5 13 -2.5 14 -8.5 10.5 C-10.5 9.3 -12 7.8 -13 6 C-9 3.5 -4.5 2.6 0 3.2 C-3.5 4.6 -5.8 6.4 -6.8 8.2 C-3 10.6 2.5 10 5.4 6.4 C8.4 2.6 8 -3.2 4.2 -6.4 C0.5 -9.4 -4.5 -9.4 -8 -7.6 C-5 -6.6 -1.2 -4.6 1.4 -1.6 C3 0.2 3.2 2 2.6 3.4 C1.4 1.4 -1.2 -0.2 -3.6 -0.8 L-2 -2.2 L-5.4 -3 Z" fill="#e03a3e"/></svg>
<svg class="a" style="left:726px;top:1546px" width="54" height="56" viewBox="-27 -28 54 56"><circle cx="0" cy="-0.3" r="19.6" fill="none" stroke="#008348" stroke-width="6.4"/><path id="boA" d="M-13.6 12.6 A18.2 18.2 0 0 1 -15.6 -9.6" fill="none"/><path id="boB" d="M10.6 -15 A18.2 18.2 0 0 1 17.2 6.4" fill="none"/><text font-family="Liberation Sans, sans-serif" font-weight="bold" font-size="5.2" fill="#fff" letter-spacing="0.3"><textPath href="#boA" startOffset="50%" text-anchor="middle">BOSTON</textPath></text><text font-family="Liberation Sans, sans-serif" font-weight="bold" font-size="5.2" fill="#fff" letter-spacing="0.3"><textPath href="#boB" startOffset="50%" text-anchor="middle">CELTICS</textPath></text><circle cx="-13.2" cy="-20" r="5.5" fill="#bb2a20"/><path d="M-17.7 -21.8 C-14 -20.8 -11 -20.8 -8.2 -22.8 M-14 -25.3 C-13 -22 -13 -19 -14.5 -15" stroke="#7a1710" stroke-width="0.5" fill="none"/><path d="M-4.5 -21.5 C-2 -24.5 3 -24.5 5 -21.5 L6.5 -18.5 L-5 -18.5Z" fill="#111"/><path d="M-4 -20.4 L5.6 -20.4 L6 -18 L-4.6 -18Z" fill="#008348"/><ellipse cx="1.2" cy="-14.6" rx="3.9" ry="4.3" fill="#f1c9a0"/><path d="M-2.6 -16.4 L4.6 -16.4 L4.6 -15 L-2.6 -15Z" fill="#222"/><path d="M-9.5 -11 C-6 -13 -3 -11.6 -1 -9.4 L4 -9.6 C8 -9.4 10.4 -6.4 11 -2 L12.4 9.4 L8.4 9.6 L7 -1 L5.4 7.4 L-6.4 7.4 L-5 -2 C-7.6 -3.6 -9.4 -6.4 -10.4 -9.6Z" fill="#fff" stroke="#222" stroke-width="0.5"/><path d="M-3 -8.6 L4.4 -8.8 L6.4 7.6 L-6.6 7.6 L-6 0.6 Z" fill="#b6903c"/><g fill="#0a8a3c"><circle cx="-1" cy="-2.6" r="1.8"/><circle cx="3" cy="-1.4" r="1.7"/><circle cx="-3" cy="2.6" r="1.9"/><circle cx="1.6" cy="3.4" r="1.9"/><circle cx="4.6" cy="5" r="1.6"/><circle cx="-2.4" cy="-6.4" r="1.4"/><circle cx="2.6" cy="-6.4" r="1.4"/><circle cx="-4.4" cy="6" r="1.4"/></g><path d="M-6.4 7.4 L6.4 7.4 L4.4 16 L1 21 L-2.6 27 L-9 24 L-6.4 20 L-3.4 14Z" fill="#111"/><path d="M-9.6 21.6 L-4.6 22.6 L-1 26.4 L-6.6 27.8 L-10 25.6Z" fill="#111"/><path d="M-7.6 19 L-3.6 20.4 L-4.6 23 L-8.4 21.6Z" fill="#0a8a3c"/><path d="M12 8.6 L13.6 26.6" stroke="#b3202a" stroke-width="1.2" fill="none"/><circle cx="11.8" cy="8.6" r="1.7" fill="#f1c9a0"/><circle cx="-9.4" cy="-10.2" r="1.7" fill="#f1c9a0"/></svg>
<svg class="a" style="left:62.3px;top:781.1px" width="20.8" height="15.5" viewBox="-1 -1 55 41"><path d="M0.7 8.8 C8 5.6 17 4.2 24.5 4 L26.5 0 L28.5 4 C36 4.2 45 5.6 52.3 8.8 L50.6 19 C49.5 22.5 46 26 40 28.3 C36.5 36 31.5 38.2 26.5 38.2 C21.5 38.2 16.5 36 13 28.3 C7 26 3.5 22.5 2.4 19 Z" fill="#0e2557" stroke="#b4975a" stroke-width="0.5"/><path d="M13 28.4 Q26.5 26.2 40 28.4 C36.5 36 31.5 38.2 26.5 38.2 C21.5 38.2 16.5 36 13 28.4Z" fill="#d5102f"/><path d="M2.6 18.9 Q26.5 9.4 50.4 18.9" fill="none" stroke="#b4975a" stroke-width="0.5"/><g stroke="#b4975a" stroke-width="1.25" fill="none"><path d="M10.5 19.8 L19.8 17.9"/><path d="M12.3 22.4 L20.6 20.4"/><path d="M14.6 24.9 L21.4 22.9"/><path d="M17.2 27.2 L22.2 25.4"/><path d="M42.5 19.8 L33.2 17.9"/><path d="M40.7 22.4 L32.4 20.4"/><path d="M38.4 24.9 L31.6 22.9"/><path d="M35.8 27.2 L30.8 25.4"/></g><circle cx="26.5" cy="17.4" r="4.3" fill="#0e2557"/><ellipse cx="26.5" cy="17.2" rx="2.7" ry="2.4" fill="#f4f4f6"/><path d="M25.5 19.4 L26.5 29 L27.5 19.4Z" fill="#d5102f"/><path d="M24.4 26 L25.2 29.6 L26.5 27.5 L27.8 29.6 L28.6 26 L26.5 28.6Z" fill="#c9b27a"/><path d="M25.7 2.2 L26.5 0.4 L27.3 2.2 L26.5 4Z" fill="#d5102f"/><path id="nopAm" d="M4.33333 17.7 Q44.1667 10 84 17.7" fill="none"/><g transform="scale(0.6,1)"><text font-family="Liberation Sans, sans-serif" font-weight="bold" font-size="10.2" fill="#fff" letter-spacing="0.5"><textPath href="#nopAm" startOffset="50%" text-anchor="middle">NEW ORLEANS</textPath></text></g><text x="26.5" y="32.9" text-anchor="middle" font-family="Liberation Sans, sans-serif" font-weight="bold" font-size="2.8" fill="#fff" opacity="0.85" textLength="16" lengthAdjust="spacingAndGlyphs">PELICANS</text></svg>
<svg class="a" style="left:63px;top:813.1px" width="19.2" height="19.2" viewBox="-27 -27 54 54"><circle r="25.6" fill="#e03a3e"/><circle r="24" fill="none" stroke="#fff" stroke-width="0.9"/><circle r="15.6" fill="#fff"/><circle r="16.6" fill="none" stroke="#fff" stroke-width="0.8"/><path id="atAm" d="M-18.6 0 A18.6 18.6 0 0 1 18.6 0" fill="none"/><path id="atBm" d="M-21.8 0 A21.8 21.8 0 0 0 21.8 0" fill="none"/><text font-family="Liberation Sans, sans-serif" font-weight="bold" font-size="5.2" fill="#fff" letter-spacing="0.5"><textPath href="#atAm" startOffset="50%" text-anchor="middle">ATLANTA HAWKS</textPath></text><text font-family="Liberation Sans, sans-serif" font-weight="bold" font-size="5.2" fill="#fff" letter-spacing="0.4"><textPath href="#atBm" startOffset="50%" text-anchor="middle">BASKETBALL CLUB</textPath></text><path d="M-11.5 -7.5 C-7 -12.5 1 -13.5 6.5 -10.5 C12.5 -7 13.5 1.5 9.5 7.5 C5.5 13 -2.5 14 -8.5 10.5 C-10.5 9.3 -12 7.8 -13 6 C-9 3.5 -4.5 2.6 0 3.2 C-3.5 4.6 -5.8 6.4 -6.8 8.2 C-3 10.6 2.5 10 5.4 6.4 C8.4 2.6 8 -3.2 4.2 -6.4 C0.5 -9.4 -4.5 -9.4 -8 -7.6 C-5 -6.6 -1.2 -4.6 1.4 -1.6 C3 0.2 3.2 2 2.6 3.4 C1.4 1.4 -1.2 -0.2 -3.6 -0.8 L-2 -2.2 L-5.4 -3 Z" fill="#e03a3e"/></svg>
<div class="a c" style="left:29.5px;top:1606px;width:120px;font-size:13px;line-height:16px;letter-spacing:-0.3px">뉴올펠리</div>
<div class="a c b" style="left:29.5px;top:1625px;width:120px;font-size:14px;line-height:16px;letter-spacing:-0.3px">4위</div>
<div class="a c" style="left:29.5px;top:1639px;width:120px;font-size:13px;line-height:16px;letter-spacing:-0.3px">3승 3패</div>
<div class="a c" style="left:133.5px;top:1573px;width:160px;font-size:13px;line-height:17px;letter-spacing:-0.5px">NBA<br>24-11-05 11:30</div>
<div class="a c b" style="left:133.5px;top:1625px;width:160px;font-size:13px;line-height:16px;color:#999;letter-spacing:0.5px">VS</div>
<div class="a c" style="left:278px;top:1606px;width:120px;font-size:13px;line-height:16px;letter-spacing:-0.3px">포틀트레</div>
<div class="a c b" style="left:278px;top:1625px;width:120px;font-size:14px;line-height:16px;letter-spacing:-0.3px">4위</div>
<div class="a c" style="left:278px;top:1639px;width:120px;font-size:13px;line-height:16px;letter-spacing:-0.3px">2승 4패</div>
<div class="a c" style="left:443.5px;top:1606px;width:120px;font-size:13px;line-height:16px;letter-spacing:-0.3px">애틀호크</div>
<div class="a c b" style="left:443.5px;top:1625px;width:120px;font-size:14px;line-height:16px;letter-spacing:-0.3px">5위</div>
<div class="a c" style="left:443.5px;top:1639px;width:120px;font-size:13px;line-height:16px;letter-spacing:-0.3px">2승 4패</div>
<div class="a c" style="left:548.5px;top:1573px;width:160px;font-size:13px;line-height:17px;letter-spacing:-0.5px">NBA<br>24-11-05 09:45</div>
<div class="a c b" style="left:548.5px;top:1625px;width:160px;font-size:13px;line-height:16px;color:#999;letter-spacing:0.5px">VS</div>
<div class="a c" style="left:693px;top:1606px;width:120px;font-size:13px;line-height:16px;letter-spacing:-0.3px">보스셀틱</div>
<div class="a c b" style="left:693px;top:1625px;width:120px;font-size:14px;line-height:16px;letter-spacing:-0.3px">1위</div>
<div class="a c" style="left:693px;top:1639px;width:120px;font-size:13px;line-height:16px;letter-spacing:-0.3px">5승 1패</div>
<div class="hl" style="left:30px;top:1705px;width:794px;background:#dedede"></div>
<div class="hl" style="left:30px;top:1794px;width:794px;background:#dedede"></div>
<svg class="a" style="left:418px;top:1742.8px" width="20" height="22" viewBox="0 0 20 22"><path d="M2 2 L9.3 6 L16.5 2 L16.5 4.7 L9.3 8.9 L2 4.7 Z" fill="#b9cddd"/><path d="M2 6.35 L9.3 10.35 L16.5 6.35 L16.5 9.05 L9.3 13.25 L2 9.05 Z" fill="#6f98b8"/></svg>
<svg class="a" style="left:418px;top:1829.2px" width="20" height="22" viewBox="0 0 20 22"><path d="M2 2 L9.3 6 L16.5 2 L16.5 4.7 L9.3 8.9 L2 4.7 Z" fill="#b9cddd"/><path d="M2 6.35 L9.3 10.35 L16.5 6.35 L16.5 9.05 L9.3 13.25 L2 9.05 Z" fill="#6f98b8"/><path d="M2 10.7 L9.3 14.7 L16.5 10.7 L16.5 13.4 L9.3 17.6 L2 13.4 Z" fill="#2a6490"/></svg>
<div class="a" style="left:33.4px;top:1742px;font-size:13px;line-height:16px;letter-spacing:-0.05px">NBA | 24-11-07 10:00</div>
<div class="a r" style="left:130.5px;width:151px;top:1742px;font-size:13px;line-height:16px;letter-spacing:0px"><b>뉴올펠리</b>(4위)</div>
<div class="a b" style="left:283px;top:1742px;font-size:13px;line-height:16px;color:#aaa">V</div>
<div class="a" style="left:301.5px;top:1742px;font-size:13px;line-height:16px;letter-spacing:0px"><b>클리캐벌</b>(1위)</div>
<div class="a" style="left:446.3px;top:1742px;font-size:13px;line-height:16px;letter-spacing:-0.05px">NBA | 24-11-07 09:30</div>
<div class="a r" style="left:542px;width:151px;top:1742px;font-size:13px;line-height:16px;letter-spacing:0px"><b>애틀호크</b>(5위)</div>
<div class="a b" style="left:695.5px;top:1742px;font-size:13px;line-height:16px;color:#aaa">V</div>
<div class="a" style="left:714px;top:1742px;font-size:13px;line-height:16px;letter-spacing:0px"><b>뉴욕닉스</b>(2위)</div>
<div class="a" style="left:33.4px;top:1830px;font-size:13px;line-height:16px;letter-spacing:-0.05px">NBA | 24-11-09 09:00</div>
<div class="a r" style="left:130.5px;width:151px;top:1830px;font-size:13px;line-height:16px;letter-spacing:0px"><b>올랜매직</b>(1위)</div>
<div class="a b" style="left:283px;top:1830px;font-size:13px;line-height:16px;color:#aaa">V<span style="margin-left:-8.2px">S</span></div>
<div class="a" style="left:301.5px;top:1830px;font-size:13px;line-height:16px;letter-spacing:0px"><b>뉴올펠리</b>(4위)</div>
<div class="a" style="left:446.3px;top:1830px;font-size:13px;line-height:16px;letter-spacing:-0.05px">NBA | 24-11-09 09:00</div>
<div class="a r" style="left:542px;width:151px;top:1830px;font-size:13px;line-height:16px;letter-spacing:0px"><b>디트피스</b>(5위)</div>
<div class="a b" style="left:695.5px;top:1830px;font-size:13px;line-height:16px;color:#aaa">V<span style="margin-left:-8.2px">S</span></div>
<div class="a" style="left:714px;top:1830px;font-size:13px;line-height:16px;letter-spacing:0px"><b>애틀호크</b>(5위)</div>
</body></html>
